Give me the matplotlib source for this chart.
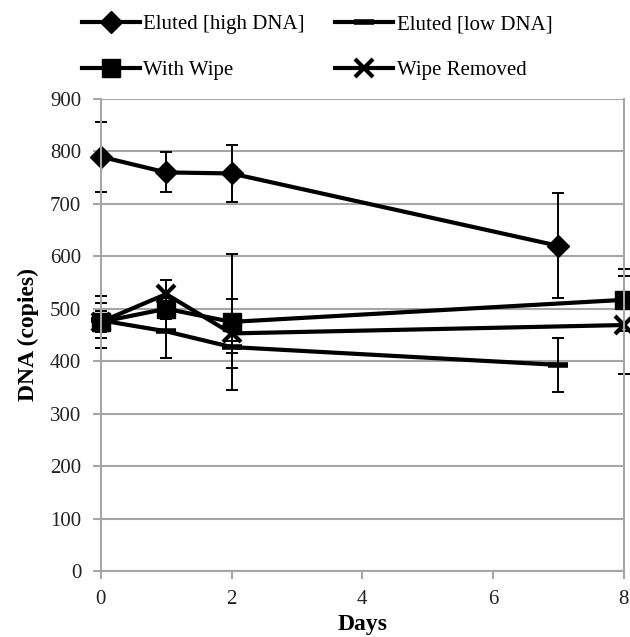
import matplotlib
matplotlib.use("Agg")
import matplotlib.pyplot as plt

plt.rcParams['font.family'] = ['Liberation Serif', 'DejaVu Serif']

days_high = [0, 1, 2, 7]
high_dna = [790, 760, 758, 620]
high_err = [67, 38, 55, 100]

days_low = [0, 1, 2, 7]
low_dna = [478, 457, 427, 393]
low_err = [33, 51, 11, 52]

days_wipe = [0, 1, 2, 8]
with_wipe = [475, 500, 475, 517]
wipe_err = [50, 20, 130, 59]

days_removed = [0, 1, 2, 8]
wipe_removed = [475, 528, 453, 469]
removed_err = [20, 27, 66, 94]

grid_gray = '#a6a6a6'

fig = plt.figure(figsize=(6.30, 6.37), dpi=100)
ax = fig.add_axes([0.160, 0.1036, 0.830, 0.741])

ax.yaxis.grid(True, color=grid_gray, linewidth=1.5)
ax.set_axisbelow(True)

series = [
    (days_high, high_dna, high_err, dict(marker='D', markersize=11), 'Eluted [high DNA]'),
    (days_low, low_dna, low_err, dict(marker='_', markersize=14, markeredgewidth=4), 'Eluted [low DNA]'),
    (days_wipe, with_wipe, wipe_err, dict(marker='s', markersize=13), 'With Wipe'),
    (days_removed, wipe_removed, removed_err, dict(marker='x', markersize=13, markeredgewidth=3), 'Wipe Removed'),
]

handles = {}
for x, y, e, mk, name in series:
    ax.errorbar(x, y, yerr=e, fmt='none', ecolor='black', elinewidth=1.4,
                capsize=4, capthick=1.4, clip_on=False)
    line, = ax.plot(x, y, color='black', linewidth=3, clip_on=False, label=name, **mk)
    handles[name] = line

ax.set_xlim(0, 8)
ax.set_ylim(0, 900)
ax.set_xticks([0, 2, 4, 6, 8])
ax.set_yticks(range(0, 901, 100))
for s in ax.spines.values():
    s.set_color(grid_gray)
    s.set_linewidth(1.5)
ax.spines['top'].set_visible(False)
ax.tick_params(colors=grid_gray, labelcolor='#222222', labelsize=15, width=1.5, length=6)
ax.tick_params(axis='x', pad=8)
ax.tick_params(axis='y', pad=8)

ax.set_xlabel('Days', fontsize=17, fontweight='bold', labelpad=3)
ax.set_ylabel('DNA (copies)', fontsize=17, fontweight='bold', labelpad=8)

# legend rows: high / low, then wipe / removed (legend fills by column)
order = ['Eluted [high DNA]', 'With Wipe', 'Eluted [low DNA]', 'Wipe Removed']
fig.legend([handles[k] for k in order], order, loc='upper left',
           bbox_to_anchor=(0.130, 0.977), ncol=2, frameon=False, fontsize=15,
           handlelength=2.8, handletextpad=0.15, columnspacing=1.45,
           labelspacing=1.25, borderpad=0, borderaxespad=0)

fig.savefig('out.png', dpi=100)
